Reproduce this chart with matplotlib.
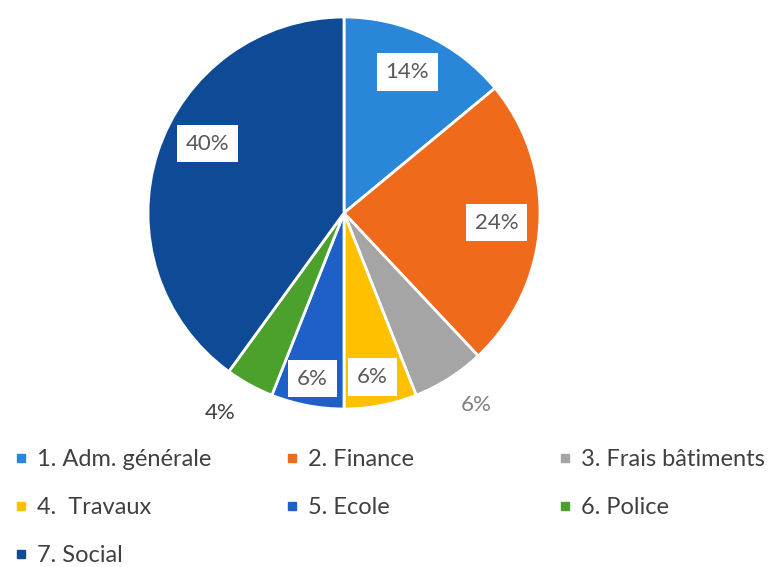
import numpy as np
import matplotlib.pyplot as plt
from matplotlib.lines import Line2D

plt.rcParams['font.family'] = ['Lato', 'DejaVu Sans']

# données
categories = ['1. Adm. générale', '2. Finance', '3. Frais bâtiments',
              '4.  Travaux', '5. Ecole', '6. Police', '7. Social']
valeurs = [14, 24, 6, 6, 6, 4, 40]
couleurs = ['#2a86d8', '#f06a1c', '#a5a5a5', '#ffc000',
            '#1f5fc8', '#4ca02c', '#0e4a96']

# position des étiquettes (rayon, décalage d'angle) et style
rayons = [0.79, 0.78, 1.19, 0.85, 0.86, 1.20, 0.78]
decalages = [1, 0, 2, -1, 0, -3, -9]
encadre = [True, True, False, True, True, False, True]

fig = plt.figure(figsize=(7.72, 5.67), dpi=100)
ax = fig.add_axes([(344 - 196) / 772, (567 - 409) / 567, 392 / 772, 392 / 567])

wedges, _ = ax.pie(valeurs, colors=couleurs, startangle=90, counterclock=False,
                   radius=1, wedgeprops=dict(edgecolor='white', linewidth=2))
ax.set_xlim(-1, 1)
ax.set_ylim(-1, 1)
ax.set_aspect('equal')
ax.axis('off')

for w, v, r, d, b in zip(wedges, valeurs, rayons, decalages, encadre):
    ang = np.deg2rad((w.theta1 + w.theta2) / 2 + d)
    x, y = r * np.cos(ang), r * np.sin(ang)
    if b:
        ax.text(x, y, f'{v}%', ha='center', va='center', fontsize=16,
                color='#595959',
                bbox=dict(boxstyle='square,pad=0.4', fc='white', ec='none'))
    else:
        c = '#404040' if v == 4 else '#808080'
        ax.text(x, y, f'{v}%', ha='center', va='center', fontsize=16, color=c)

# légende en trois colonnes
colonnes = [[0, 3, 6], [1, 4], [2, 5]]
xs = [0.016, 0.367, 0.721]
for col, x0 in zip(colonnes, xs):
    handles = [Line2D([], [], marker='s', ls='none', markersize=6,
                      color=couleurs[i]) for i in col]
    leg = fig.legend(handles, [categories[i] for i in col], loc='upper left',
                     bbox_to_anchor=(x0, 0.208), frameon=False, fontsize=17,
                     handlelength=0.7, handletextpad=0.35, labelspacing=1.15,
                     labelcolor='#404040', borderaxespad=0, borderpad=0)

fig.savefig('out.png', dpi=100)
